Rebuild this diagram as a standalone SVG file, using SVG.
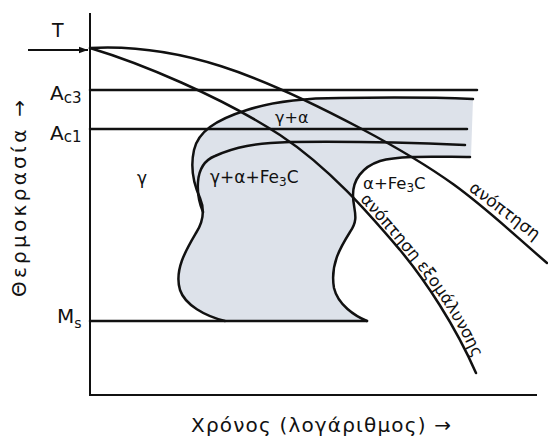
<svg xmlns="http://www.w3.org/2000/svg" width="548" height="441" viewBox="0 0 548 441">
<style>
.ln{fill:none;stroke:#111;stroke-width:2.5;stroke-linecap:round}
.ax{fill:none;stroke:#111;stroke-width:2}
.t{font-family:"DejaVu Sans",sans-serif;fill:#111}
.shade{fill:#dde2ea;stroke:none}
</style>
<defs>
<marker id="ah" markerWidth="10" markerHeight="8" refX="9" refY="4" orient="auto" markerUnits="userSpaceOnUse">
<path d="M0,0.8 L9,4 L0,7.2 Z" fill="#111"/>
</marker>
<path id="tp1" d="M468,190 L548,251"/>
<path id="tp2" d="M360,200 C387,230 420,268 440,298 S 470,350 481,375"/>
</defs>
<rect width="548" height="441" fill="#fff"/>

<g id="region-shaded">
<path class="shade" d="M225,321 C205,316 185,305 180,290 C174,270 186,250 196,233 C203,222 205,210 200,198 C194,185 190,168 194,150 C198,132 215,120 247,110 C275,101 310,98 340,98 C400,97 450,98 473,99 L471,157 C440,157 400,155 380,161 C362,167 353,180 353,195 C353,210 360,218 350,232 C340,248 330,265 334,288 C338,305 355,316 367,321 Z"/>
</g>

<g id="axes">
<path class="ax" d="M90,13 L90,395 L537,395"/>
</g>

<g id="connectors">
<path id="t-arrow" class="ax" d="M28,50 L88,50" marker-end="url(#ah)"/>
<path id="ac3-line" class="ln" d="M90,90 L477,90"/>
<path id="ac1-line" class="ln" d="M90,129 L467,129"/>
<path id="ms-line" class="ln" d="M90,321 L367,321"/>
<path id="start-curve" class="ln" d="M225,321 C205,316 185,305 180,290 C174,270 186,250 196,233 C203,222 205,210 200,198 C194,185 190,168 194,150 C198,132 215,120 247,110 C275,101 310,98 340,98 C400,97 450,98 473,99"/>
<path id="inner-curve" class="ln" d="M203,212 C200,205 197,195 198,182 C199,168 205,160 215,156 C235,147 255,143 290,142 C360,141 420,143 465,145"/>
<path id="finish-curve" class="ln" d="M470,157 C440,157 400,155 380,161 C362,167 353,180 353,195 C353,210 360,218 350,232 C340,248 330,265 334,288 C338,305 355,316 367,321"/>
<path id="anneal-curve" class="ln" d="M90,48 C180,43 260,75 360,128 S 480,205 547,263"/>
<path id="normalize-curve" class="ln" d="M90,48 C140,63 220,96 280,135 C330,168 370,215 400,250 C425,280 455,325 476,373"/>
</g>

<g id="label-T"><text class="t" x="52" y="37" font-size="19">T</text></g>
<g id="label-Ac3"><text class="t" x="50" y="100" font-size="20">A<tspan font-size="15" dy="3">c3</tspan></text></g>
<g id="label-Ac1"><text class="t" x="50" y="140" font-size="20">A<tspan font-size="15" dy="2">c1</tspan></text></g>
<g id="label-Ms"><text class="t" x="57" y="323" font-size="20">M<tspan font-size="14" dy="5">s</tspan></text></g>
<g id="label-gamma"><text class="t" x="142" y="184" font-size="17" text-anchor="middle">γ</text></g>
<g id="label-gamma-alpha"><text class="t" x="275" y="123" font-size="16">γ+α</text></g>
<g id="label-gamma-alpha-fe3c"><text class="t" x="210" y="183" font-size="17">γ+α+Fe<tspan font-size="12" dy="3">3</tspan><tspan dy="-3">C</tspan></text></g>
<g id="label-alpha-fe3c"><text class="t" x="363" y="189" font-size="16.5">α+Fe<tspan font-size="12" dy="3">3</tspan><tspan dy="-3">C</tspan></text></g>
<g id="label-anneal"><text class="t" font-size="17"><textPath href="#tp1">ανόπτηση</textPath></text></g>
<g id="label-normalize"><text class="t" font-size="16.5"><textPath href="#tp2">ανόπτηση εξομάλυνσης</textPath></text></g>
<g id="label-y"><text class="t" font-size="20" transform="translate(26,297) rotate(-90)" textLength="197" lengthAdjust="spacing">Θερμοκρασία →</text></g>
<g id="label-x"><text class="t" x="191" y="432" font-size="20" textLength="260" lengthAdjust="spacing">Χρόνος (λογάριθμος) →</text></g>
</svg>
